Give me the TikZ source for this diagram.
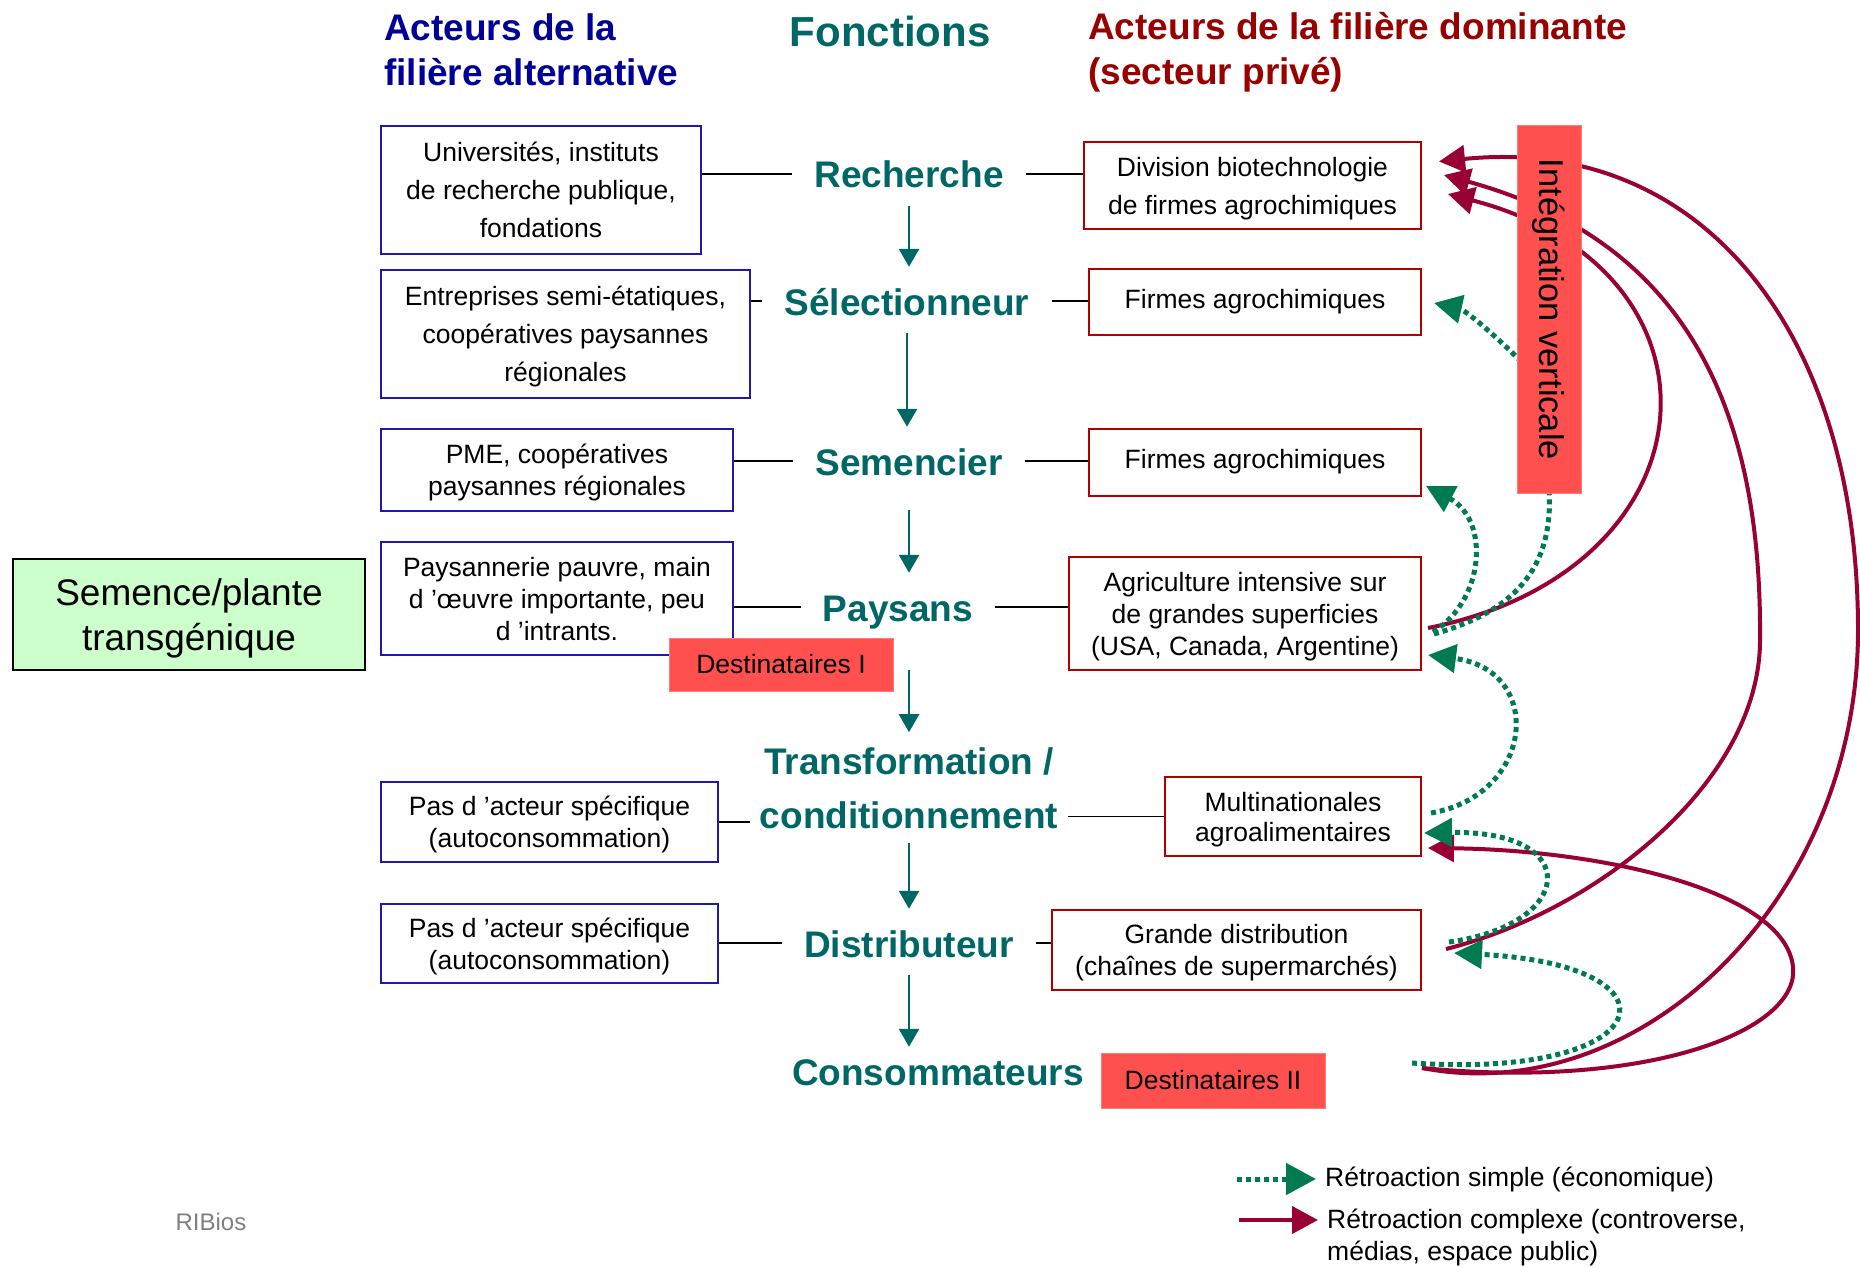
\documentclass[tikz,border=0pt]{standalone}
\usepackage{fontspec}
\setmainfont{Liberation Sans}
\usetikzlibrary{arrows.meta,calc}

\definecolor{altblue}{HTML}{000099}
\definecolor{altline}{HTML}{1C1CA8}
\definecolor{domred}{HTML}{990000}
\definecolor{domline}{HTML}{B00000}
\definecolor{fonteal}{HTML}{006666}
\definecolor{simplegreen}{HTML}{007A50}
\definecolor{cplxred}{HTML}{990033}
\definecolor{destred}{HTML}{FF5050}
\definecolor{semgreen}{HTML}{CCFFCC}

\newcommand\casefont{\fontsize{26.5pt}{32pt}\selectfont}
\newcommand\casefontlarge{\fontsize{26.5pt}{38pt}\selectfont}
\newcommand\fonctionfont{\fontsize{37pt}{54pt}\selectfont\bfseries}
\newcommand\titrefont{\fontsize{37pt}{45pt}\selectfont\bfseries}

\pgfdeclarelayer{fond}
\pgfsetlayers{fond,main}

\tikzset{
    alt/.style={draw=altline, line width=2pt, inner sep=0pt, align=center, font=\casefont, text depth=-13pt},
    dom/.style={draw=domline, line width=2pt, inner sep=0pt, align=center, font=\casefont, text depth=-13pt},
    large/.style={font=\casefontlarge, text depth=-9pt},
    fonction/.style={text=fonteal, font=\fonctionfont, inner xsep=22pt, inner ysep=0pt,
                     text height=28pt, text depth=0pt},
    fonctionbis/.style={text=fonteal, font=\fonctionfont, inner xsep=10pt, inner ysep=0pt, align=center},
    titre/.style={anchor=base west, align=left, inner sep=0pt, font=\titrefont},
    dest/.style={fill=destred, draw=destred!75!white, line width=1pt, inner sep=0pt,
                 minimum width=224pt, font=\casefont},
    lien/.style={draw=black, line width=1.5pt},
    fleche/.style={draw=fonteal, line width=2.5pt, -{Triangle[length=18pt,width=20pt]},
                   shorten <=18pt, shorten >=20pt},
    simple/.style={draw=simplegreen, line width=5pt, dash pattern=on 5pt off 4pt,
                   -{Triangle[length=28pt,width=28pt]}},
    complexe/.style={draw=cplxred, line width=4pt, -{Triangle[length=26pt,width=27pt]}},
    legende/.style={inner sep=0pt, font=\casefont}
}

\begin{document}
\begin{tikzpicture}[x=1pt,y=-1pt]
    \useasboundingbox (0,0) rectangle (1860,1268);

    % titres
    \node[titre, text=altblue] (talt) at (384,85.5) {Acteurs de la\\filière alternative};
    \node[font=\fontsize{42pt}{50pt}\selectfont\bfseries, text=fonteal, anchor=base, inner sep=0pt]
        (tfonc) at (890,47) {Fonctions};
    \node[titre, text=domred] (tdom) at (1088,85) {Acteurs de la filière dominante\\(secteur privé)};

    % filiere alternative
    \node[alt, large, minimum width=320pt, minimum height=128pt] (univ) at (541,190)
        {Universités, instituts\\de recherche publique,\\fondations};
    \node[alt, large, minimum width=369pt, minimum height=128pt] (entr) at (565.5,334)
        {Entreprises semi-étatiques,\\coopératives paysannes\\régionales};
    \node[alt, minimum width=352pt, minimum height=82pt] (pme) at (557,470)
        {PME, coopératives\\paysannes régionales};
    \node[alt, text depth=-9pt, minimum width=352pt, minimum height=113pt] (pauv) at (557,598.5)
        {Paysannerie pauvre, main\\d ’œuvre importante, peu\\d ’intrants.};
    \node[alt, minimum width=337pt, minimum height=80pt] (pas1) at (549.5,822)
        {Pas d ’acteur spécifique\\(autoconsommation)};
    \node[alt, minimum width=337pt, minimum height=79pt] (pas2) at (549.5,943.5)
        {Pas d ’acteur spécifique\\(autoconsommation)};

    % fonctions
    \node[fonction] (rech) at (909,174) {Recherche};
    \node[fonction] (sel) at (907,301) {Sélectionneur};
    \node[fonction] (sem) at (909,461) {Semencier};
    \node[fonction] (pay) at (898,607) {Paysans};
    \node[fonctionbis] (trans) at (909,788) {Transformation /\\conditionnement};
    \node[fonction] (dist) at (909,943) {Distributeur};
    \node[fonction] (cons) at (938,1071) {Consommateurs};

    % filiere dominante
    \node[dom, large, minimum width=337pt, minimum height=87pt] (biotech) at (1252.5,185.5)
        {Division biotechnologie\\de firmes agrochimiques};
    \node[dom, text depth={}, minimum width=332pt, minimum height=66pt] (firme1) at (1255,302) {Firmes agrochimiques};
    \node[dom, text depth={}, minimum width=332pt, minimum height=67pt] (firme2) at (1255,462) {Firmes agrochimiques};
    \node[dom, minimum width=352pt, minimum height=113pt] (agri) at (1245,613.5)
        {Agriculture intensive sur\\de grandes superficies\\(USA, Canada, Argentine)};
    \node[dom, minimum width=256pt, minimum height=79pt, font=\fontsize{26.5pt}{30pt}\selectfont]
        (multi) at (1293,816.5) {Multinationales\\agroalimentaires};
    \node[dom, minimum width=369pt, minimum height=80pt] (grande) at (1236.5,950)
        {Grande distribution\\(chaînes de supermarchés)};

    \node[draw=black, line width=2pt, fill=semgreen, minimum width=352pt, minimum height=111pt,
          align=center, inner sep=0pt, text depth=-4pt, font=\fontsize{37pt}{45pt}\selectfont]
        (semence) at (189,614.5) {Semence/plante\\transgénique};

    % liens horizontaux
    \draw[lien] (rech.west) -- (rech.west -| univ.east);
    \draw[lien] (rech.east) -- (rech.east -| biotech.west);
    \draw[lien] (sel.west) -- (sel.west -| entr.east);
    \draw[lien] (sel.east) -- (sel.east -| firme1.west);
    \draw[lien] (sem.west) -- (sem.west -| pme.east);
    \draw[lien] (sem.east) -- (sem.east -| firme2.west);
    \draw[lien] (pay.west) -- (pay.west -| pauv.east);
    \draw[lien] (pay.east) -- (pay.east -| agri.west);
    \draw[lien] (pas1.east) -- (pas1.east -| trans.west);
    \draw[lien] (multi.west) -- (multi.west -| trans.east);
    \draw[lien] (dist.west) -- (dist.west -| pas2.east);
    \draw[lien] (dist.east) -- (dist.east -| grande.west);

    % fleches verticales
    \draw[fleche] (rech.south) -- (rech.south |- sel.north);
    \draw[fleche] (sel.south) -- (sel.south |- sem.north);
    \draw[fleche, shorten <=35pt] (sem.south) -- (sem.south |- pay.north);
    \draw[fleche, shorten <=49pt, shorten >=15pt] (trans.north |- pay.south) -- (trans.north);
    \draw[fleche, shorten <=14pt] (trans.south) -- (trans.south |- dist.north);
    \draw[fleche, shorten >=10pt] (dist.south) -- (dist.south |- cons.north);

    % destinataires
    \node[dest, minimum height=53pt] (dest1) at (781,664.5) {Destinataires I};
    \node[dest, minimum height=55pt] (dest2) at (1213,1080.5) {Destinataires II};
    \node[dest, rotate=-90, minimum width=367pt, minimum height=64pt, font=\fontsize{34.5pt}{40pt}\selectfont]
        (integ) at (1549,309.5) {Intégration verticale};

    % retroactions
    \coordinate (consR) at (1422,1068);
    \coordinate (consG) at (1412,1063);
    \begin{pgfonlayer}{fond}
        \draw[complexe] (consR) .. controls (1640,1110) and (1858,900) .. (1858,630)
            .. controls (1858,330) and (1700,135) .. ($(biotech.east)+(17,-24)$);
        \draw[complexe] ($(grande.east)+(24,-1)$) .. controls (1600,910) and (1760,780) .. (1760,640)
            .. controls (1762,400) and (1680,240) .. ($(biotech.east)+(22,-10.5)$);
        \draw[complexe] ($(agri.east)+(6,14.5)$) .. controls (1720,570) and (1740,270)
            .. ($(biotech.east)+(26,8.5)$);
        \draw[complexe] (consR) .. controls (1650,1090) and (1800,1030) .. (1793,967)
            .. controls (1785,890) and (1600,850) .. ($(multi.east)+(6,31.5)$);

        \draw[simple] ($(integ.south)+(5,52.5)$) .. controls (1495,335) and (1465,310)
            .. ($(firme1.east)+(12,1)$);
        \draw[simple] ($(agri.east)+(11,18.5)$) .. controls (1485,600) and (1490,520)
            .. ($(firme2.east)+(4,24)$);
        \draw[simple, -] ($(agri.east)+(12,20.5)$) .. controls (1500,615) and (1555,580)
            .. ($(integ.east)+(0,-5)$);
        \draw[simple] ($(multi.east)+(9,-3.5)$) .. controls (1535,795) and (1545,670)
            .. ($(agri.east)+(6,41.5)$);
        \draw[simple] ($(grande.east)+(27,-8)$) .. controls (1575,925) and (1585,830)
            .. ($(multi.east)+(2,16.5)$);
        \draw[simple] (consG) .. controls (1660,1080) and (1690,965) .. ($(grande.east)+(32,3)$);
    \end{pgfonlayer}

    % legende
    \node[legende, anchor=west] (legs) at (1325,1179) {Rétroaction simple (économique)};
    \node[legende, anchor=north west, align=left] (legc) at (1327,1209)
        {Rétroaction complexe (controverse,\\médias, espace public)};
    \coordinate (lgs) at (1237,1179);
    \coordinate (lgc) at (1239,1220);
    \draw[simple, -{Triangle[length=30pt,width=31pt]}, shorten >=9pt] (lgs) -- (lgs -| legs.west);
    \draw[complexe, shorten >=9pt] (lgc) -- (lgc -| legc.west);

    \node[text=black!50, font=\fontsize{24pt}{28pt}\selectfont] (ribios) at (211,1222) {RIBios};
\end{tikzpicture}
\end{document}
